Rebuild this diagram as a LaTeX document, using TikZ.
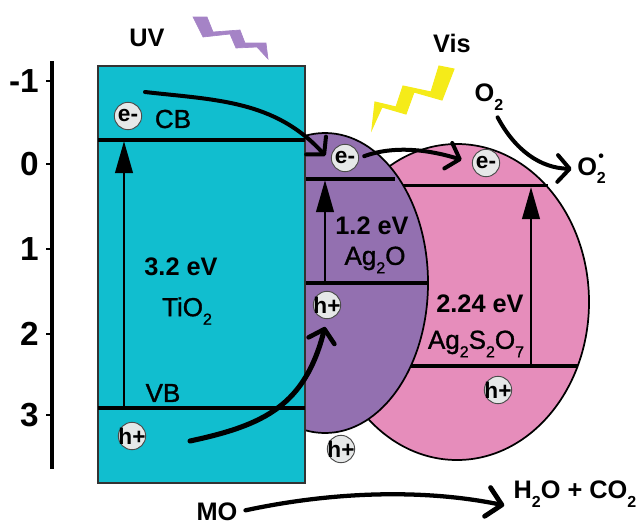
\documentclass[tikz,border=0pt]{standalone}
\usepackage{fontspec}
\setmainfont{Liberation Sans}
\newfontfamily\medfont[FakeBold=1.2]{Liberation Sans}
\usetikzlibrary{shapes.geometric, arrows.meta}
\definecolor{tealband}{RGB}{17,190,207}
\definecolor{purpleband}{RGB}{147,112,176}
\definecolor{pinkband}{RGB}{230,141,187}
\definecolor{uvbolt}{RGB}{165,131,198}
\definecolor{visbolt}{RGB}{245,235,25}
\definecolor{chargefill}{RGB}{230,232,232}
\newcommand{\chargetxt}[1]{\makebox[0pt]{#1}}
\newcommand{\dn}[1]{\raisebox{-0.33em}{\fontsize{12}{12}\selectfont #1}}
\tikzset{
    lab/.style={inner sep=0pt, font=\medfont\fontsize{19.5}{22}\selectfont},
    labbold/.style={inner sep=0pt, font=\bfseries\fontsize{19}{22}\selectfont},
    axislab/.style={inner sep=0pt, anchor=east, font=\bfseries\fontsize{25}{28}\selectfont},
    axisline/.style={line width=2.6pt},
    ticks/.style={line width=1.6pt},
    level/.style={line width=2.3pt},
    charge/.style={circle, draw=black!70, fill=chargefill, line width=0.7pt, minimum size=20.5pt, inner sep=0pt, font=\bfseries\fontsize{17}{19}\selectfont},
    gaparrow/.style={line width=2.2pt, -{Triangle[length=24pt, width=13pt]}},
    flow/.style={line width=3pt, line cap=round, -{Straight Barb[length=9pt, width=20pt, line width=3pt, round]}}
}
\begin{document}
\begin{tikzpicture}[x=0.75pt, y=-0.75pt]
        \useasboundingbox (0,0) rectangle (641,525);
        % Ag2S2O7 ellipse
        \node (agso) [ellipse, draw=black, fill=pinkband, line width=1.3pt, minimum width=198pt, minimum height=237pt, inner sep=0pt] at (457,302) {};
        \draw[level] (402,185.5) -- (548,185.5);
        \draw[level] (411,366) -- (578,366);
        % Ag2O ellipse
        \node (ago) [ellipse, draw=black, fill=purpleband, line width=1.3pt, minimum width=154.5pt, minimum height=225pt, inner sep=0pt] at (325,283) {};
        \draw[level] (305,179) -- (395,179);
        \draw[level] (305,283) -- (428,283);
        % TiO2 box
        \node (tio) [rectangle, draw=black!80, fill=tealband, line width=1pt, minimum width=155.25pt, minimum height=312.75pt, inner sep=0pt] at (201.5,274.5) {};
        \draw[level] (98,140) -- (305,140);
        \draw[level] (98,408) -- (305,408);

        % Light bolts
        \filldraw[uvbolt, line width=0.5pt] (193,17) -- (207,17) -- (213,32) -- (240,30) -- (245,43) -- (266,43) -- (268,59) -- (257,47) -- (236,48) -- (230,34) -- (203,37) -- cycle;
        \filldraw[visbolt, line width=0.8pt] (439,66) -- (454,69) -- (442,100) -- (414,92) -- (406,114) -- (382,107) -- (372,129) -- (375,102) -- (396,107) -- (403,86) -- (431,92) -- cycle;

        % Energy axis
        \coordinate (axistop) at (52,61);
        \coordinate (axisend) at (52,469);
        \draw[axisline] (axistop) -- (axisend);
        \node (tickm) [axislab] at (39,81) {-1};
        \node (tickz) [axislab] at (39,164) {0};
        \node (ticka) [axislab] at (39,249) {1};
        \node (tickb) [axislab] at (39,334) {2};
        \node (tickc) [axislab] at (39,415) {3};
        \draw[ticks] (axistop |- tickm) -- ++(-6,0);
        \draw[ticks] (axistop |- tickz) -- ++(-6,0);
        \draw[ticks] (axistop |- ticka) -- ++(-6,0);
        \draw[ticks] (axistop |- tickb) -- ++(-6,0);
        \draw[ticks] (axistop |- tickc) -- ++(-6,0);

        % Band gap arrows
        \coordinate (tiovb) at (124,408);
        \coordinate (tiocb) at (124,141);
        \coordinate (agovb) at (325,283);
        \coordinate (agocb) at (325,180);
        \coordinate (agsovb) at (531,366);
        \coordinate (agsocb) at (531,187);
        \draw[gaparrow] (tiovb) -- (tiocb);
        \draw[gaparrow] (agovb) -- (agocb);
        \draw[gaparrow] (agsovb) -- (agsocb);

        % Charges
        \node (etio) [charge] at (128,116) {\chargetxt{e-}};
        \node (eago) [charge] at (345,158) {\chargetxt{e-}};
        \node (eagso) [charge] at (486,163) {\chargetxt{e-}};
        \node (htio) [charge] at (132,436) {\chargetxt{h+}};
        \node (hago) [charge] at (327,305) {\chargetxt{h+}};
        \node (hagso) [charge] at (498,390) {\chargetxt{h+}};
        \node (hout) [charge] at (341,449) {\chargetxt{h+}};

        % Labels
        \node (uv) [labbold] at (147,38) {UV};
        \node (vis) [labbold] at (452,43) {Vis};
        \node (cb) [lab] at (173,119) {CB};
        \node (vb) [lab] at (163,393) {VB};
        \node (tiogap) [labbold] at (181,267) {3.2 eV};
        \node (tioname) [lab] at (187,311) {TiO\dn{2}};
        \node (agogap) [labbold] at (372,226) {1.2 eV};
        \node (agoname) [lab] at (375,260) {Ag\dn{2}O};
        \node (agsogap) [labbold] at (480,304) {2.24 eV};
        \node (agsoname) [lab] at (476,344) {Ag\dn{2}S\dn{2}O\dn{7}};
        \node (oxy) [labbold] at (489,97) {O\dn{2}};
        \node (rad) [labbold, anchor=west] at (577,169) {O\rlap{\dn{2}}\raisebox{0.55em}{\kern1pt\fontsize{12}{12}\selectfont\textbullet}};
        \node (mo) [labbold] at (217,512) {MO};
        \node (prod) [labbold] at (575,494) {H\dn{2}O + CO\dn{2}};

        % Charge transfer
        \coordinate (cbstart) at (145,92);
        \coordinate (vbstart) at (190,441);
        \draw[flow, shorten >=7pt] (cbstart) .. controls (215,100) and (275,100) .. (eago.200);
        \draw[flow, shorten <=4pt, shorten >=8pt] (eago.east) .. controls (395,145) and (430,150) .. (eagso.west);
        \draw[flow, line width=3.8pt, -{Straight Barb[length=9pt, width=20pt, line width=3.4pt, round]}, shorten >=6pt] (vbstart) .. controls (265,425) and (305,405) .. (hago.south);
        \draw[flow, shorten <=6pt, shorten >=4pt] (oxy.-70) .. controls (515,150) and (540,168) .. (rad.west);
        \draw[flow, line width=3.2pt, shorten <=6pt, shorten >=7pt, -{Straight Barb[length=11pt, width=22pt, line width=3.6pt, round]}] (mo.east) .. controls (340,490) and (430,490) .. (prod.south west);
    \end{tikzpicture}
\end{document}
